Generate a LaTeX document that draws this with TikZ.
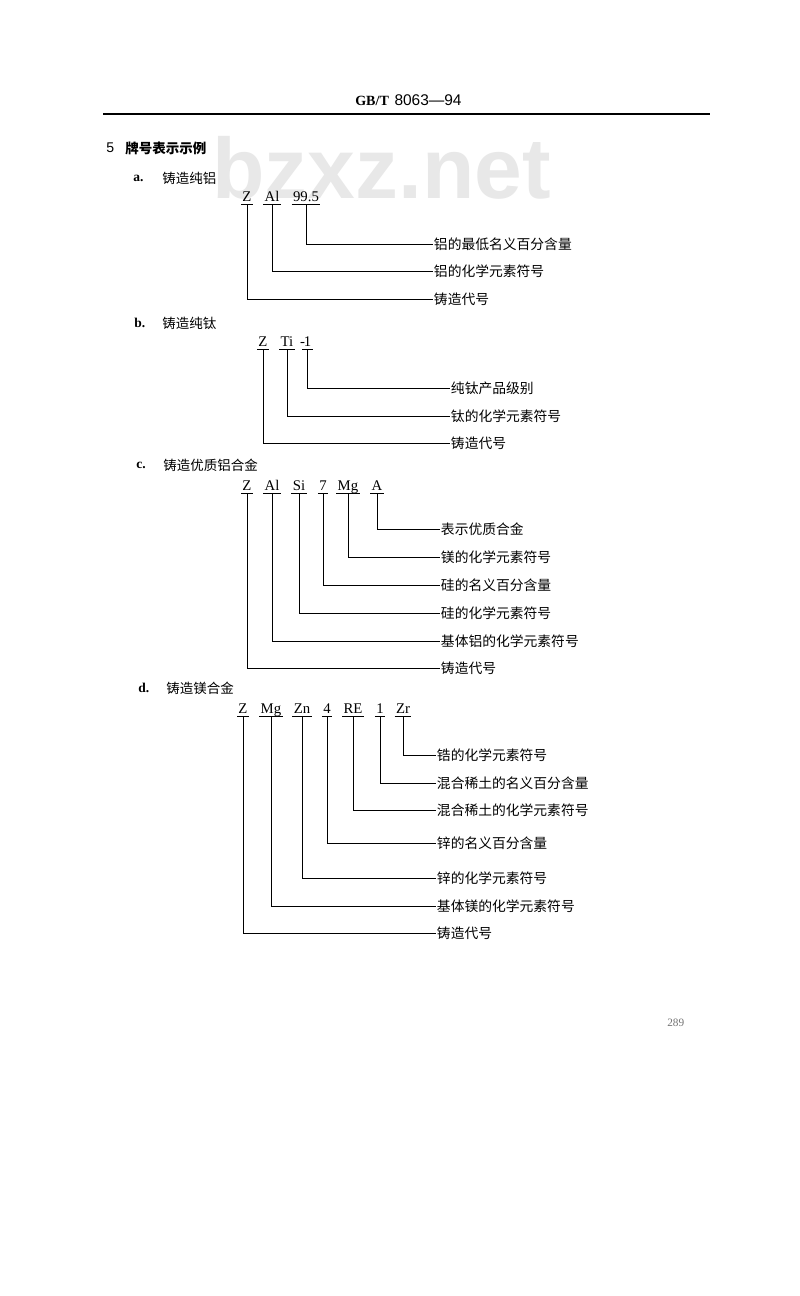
\documentclass[tikz,border=0pt]{standalone}
\usepackage{fontspec}
\setmainfont{Liberation Serif}
\setsansfont{Liberation Sans}
\newfontfamily\zhfont{Noto Sans CJK SC}
\usetikzlibrary{positioning}
\tikzset{
  yinxian/.style={line width=0.5pt, black},
}
\newcommand{\xiahuaxian}[1]{%
  \draw[yinxian] ([yshift=-2.4pt]#1.base west) -- ([yshift=-2.4pt]#1.base east);}
\newcommand{\yinchu}[2]{%
  \draw[yinxian] ([yshift=-2.4pt]#1.base) |- (#2.west);}

\begin{document}
\begin{tikzpicture}[
    x=0.025cm,
    y=-0.025cm,
    haoma/.style={
        anchor=base,
        inner xsep=0.8pt,
        inner ysep=0pt,
        font=\fontsize{10.5}{12}\selectfont
    },
    shuoming/.style={
        anchor=west,
        inner sep=0.5pt,
        font=\fontsize{9.8}{12}\zhfont
    },
    xuhao/.style={
        anchor=west,
        inner sep=0pt,
        font=\fontsize{9.6}{12}\bfseries
    },
    biaoti/.style={
        anchor=west,
        inner sep=0pt,
        font=\fontsize{9.6}{12}\zhfont
    }
]

\fill[white] (0,0) rectangle (800,1296);
\useasboundingbox (0,0) rectangle (800,1296);

% watermark
\node[anchor=base west, inner sep=0pt, text=black!9,
      font=\fontsize{61}{61}\sffamily\bfseries] (shuiyin) at (212,198) {bzxz.net};

% page head
\node[anchor=base west, inner sep=0pt] (biaozhun) at (355,105)
{\fontsize{10}{12}\bfseries GB/T\hspace{4pt}\fontsize{11}{12}\mdseries\sffamily 8063—94};
\draw[line width=0.8pt] (103,114) -- (710,114);

\node[xuhao, font=\fontsize{10}{12}\sffamily] (zhang) at (106,148) {5};
\node[biaoti, font=\fontsize{9.6}{12}\zhfont\bfseries] (zhangming) at (125,148) {牌号表示示例};

% a
\node[xuhao] (a) at (133,178) {a.};
\node[biaoti] (aming) at (162,178) {铸造纯铝};

\node[haoma] (aZ) at (247,201) {Z};
\node[haoma] (aAl) at (272,201) {Al};
\node[haoma] (aNum) at (306,201) {99.5};

\node[shuoming] (aLa) at (433,244) {铝的最低名义百分含量};
\node[shuoming] (aLb) at (433,271) {铝的化学元素符号};
\node[shuoming] (aLc) at (433,299) {铸造代号};

\xiahuaxian{aZ} \xiahuaxian{aAl} \xiahuaxian{aNum}
\yinchu{aNum}{aLa}
\yinchu{aAl}{aLb}
\yinchu{aZ}{aLc}

% b
\node[xuhao] (b) at (134,323) {b.};
\node[biaoti] (bming) at (162,323) {铸造纯钛};

\node[haoma] (bZ) at (263,346) {Z};
\node[haoma] (bTi) at (287,346) {Ti};
\node[haoma, inner xsep=0pt] (bDash) at (302.5,346) {-};
\node[haoma] (bOne) at (307.5,346) {1};

\node[shuoming] (bLa) at (450,388) {纯钛产品级别};
\node[shuoming] (bLb) at (450,416) {钛的化学元素符号};
\node[shuoming] (bLc) at (450,443) {铸造代号};

\xiahuaxian{bZ} \xiahuaxian{bTi} \xiahuaxian{bOne}
\yinchu{bOne}{bLa}
\yinchu{bTi}{bLb}
\yinchu{bZ}{bLc}

% c
\node[xuhao] (c) at (136,465) {c.};
\node[biaoti] (cming) at (163,465) {铸造优质铝合金};

\node[haoma] (cZ) at (247,490) {Z};
\node[haoma] (cAl) at (272,490) {Al};
\node[haoma] (cSi) at (299,490) {Si};
\node[haoma] (cSeven) at (323,490) {7};
\node[haoma] (cMg) at (348,490) {Mg};
\node[haoma] (cA) at (377,490) {A};

\node[shuoming] (cLa) at (440,529) {表示优质合金};
\node[shuoming] (cLb) at (440,557) {镁的化学元素符号};
\node[shuoming] (cLc) at (440,585) {硅的名义百分含量};
\node[shuoming] (cLd) at (440,613) {硅的化学元素符号};
\node[shuoming] (cLe) at (440,641) {基体铝的化学元素符号};
\node[shuoming] (cLf) at (440,668) {铸造代号};

\xiahuaxian{cZ} \xiahuaxian{cAl} \xiahuaxian{cSi}
\xiahuaxian{cSeven} \xiahuaxian{cMg} \xiahuaxian{cA}
\yinchu{cA}{cLa}
\yinchu{cMg}{cLb}
\yinchu{cSeven}{cLc}
\yinchu{cSi}{cLd}
\yinchu{cAl}{cLe}
\yinchu{cZ}{cLf}

% d
\node[xuhao] (d) at (138,688) {d.};
\node[biaoti] (dming) at (166,688) {铸造镁合金};

\node[haoma] (dZ) at (243,713) {Z};
\node[haoma] (dMg) at (271,713) {Mg};
\node[haoma] (dZn) at (302,713) {Zn};
\node[haoma] (dFour) at (327,713) {4};
\node[haoma] (dRE) at (353,713) {RE};
\node[haoma] (dOne) at (380,713) {1};
\node[haoma] (dZr) at (403,713) {Zr};

\node[shuoming] (dLa) at (436,755) {锆的化学元素符号};
\node[shuoming] (dLb) at (436,783) {混合稀土的名义百分含量};
\node[shuoming] (dLc) at (436,810) {混合稀土的化学元素符号};
\node[shuoming] (dLd) at (436,843) {锌的名义百分含量};
\node[shuoming] (dLe) at (436,878) {锌的化学元素符号};
\node[shuoming] (dLf) at (436,906) {基体镁的化学元素符号};
\node[shuoming] (dLg) at (436,933) {铸造代号};

\xiahuaxian{dZ} \xiahuaxian{dMg} \xiahuaxian{dZn} \xiahuaxian{dFour}
\xiahuaxian{dRE} \xiahuaxian{dOne} \xiahuaxian{dZr}
\yinchu{dZr}{dLa}
\yinchu{dOne}{dLb}
\yinchu{dRE}{dLc}
\yinchu{dFour}{dLd}
\yinchu{dZn}{dLe}
\yinchu{dMg}{dLf}
\yinchu{dZ}{dLg}

% page number
\node[anchor=west, inner sep=0pt, text=black!55, font=\fontsize{8}{10}\selectfont] (yema) at (667,1023) {289};

\end{tikzpicture}
\end{document}
